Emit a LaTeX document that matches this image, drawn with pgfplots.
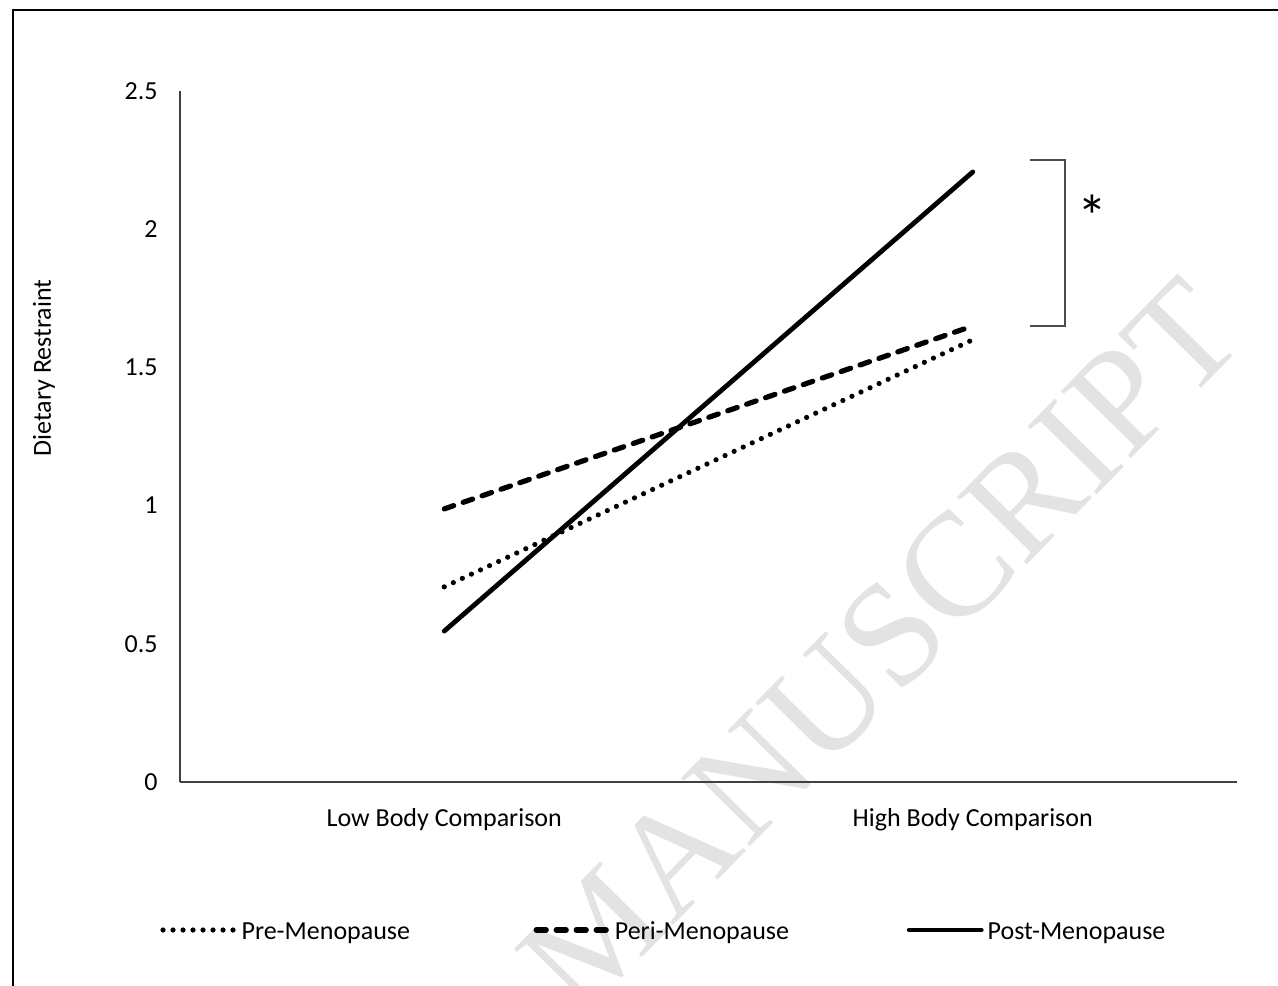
\documentclass[border=0pt]{standalone}
\usepackage{pgfplots}
\pgfplotsset{compat=1.18}
\usepackage{fontspec}
\setmainfont{Carlito}
\newfontfamily\wmfont{Liberation Serif}
\newcommand\fs{\fontsize{13bp}{16bp}\selectfont}
\begin{document}
\begin{tikzpicture}[x=1bp,y=1bp]
\node[rotate=45.5, text=black!11, font=\wmfont\fontsize{74bp}{80bp}\selectfont, inner sep=0pt] at (350,68) {MANUSCRIPT};
\begin{axis}[
  at={(0,0)}, anchor=south west,
  scale only axis, width=528.5bp, height=345.5bp,
  xmin=-0.5, xmax=1.5, ymin=0, ymax=2.5,
  axis x line=bottom, axis y line=left,
  axis line style={line width=1bp, black!75, -},
  xtick={0,1}, xticklabels={Low Body Comparison, High Body Comparison},
  ytick={0,0.5,1,1.5,2,2.5},
  major tick length=0pt,
  xticklabel style={font=\fs, inner sep=0pt, anchor=north, yshift=-13bp},
  yticklabel style={font=\fs, inner sep=0pt, anchor=east, xshift=-11bp},
  /pgf/number format/assume math mode=true,
  ylabel={Dietary Restraint},
  ylabel style={font=\fs, at={(axis description cs:-0.1287,0.599)}, anchor=center},
  clip=false, no markers,
  legend columns=3, legend cell align=left,
  legend style={draw=none, fill=none, at={(axis description cs:-0.0189,-0.2142)}, anchor=west,
    inner sep=0pt, column sep=0pt, nodes={inner sep=0pt, font=\fs, anchor=west},
    /tikz/every odd column/.append style={column sep=2bp}},
  legend image code/.code={\draw[#1] (0bp,0bp) -- (36bp,0bp);},
]
\addplot[black, line width=2.6bp, line cap=round, dash pattern=on 0pt off 5bp] coordinates {(0,0.706) (1,1.60)};
\addlegendentry{\makebox[146bp][l]{\strut Pre-Menopause}}
\addplot[black, line width=2.6bp, line cap=round, dash pattern=on 5bp off 5bp] coordinates {(0,0.988) (1,1.65)};
\addlegendentry{\makebox[146bp][l]{\strut Peri-Menopause}}
\addplot[black, line width=2.4bp, line cap=round] coordinates {(0,0.546) (1,2.207)};
\addlegendentry{\makebox[146bp][l]{\strut Post-Menopause}}
\draw[line width=0.75bp, black!70] (axis cs:1.108,2.2504) -- (axis cs:1.1745,2.2504) -- (axis cs:1.1745,1.6498) -- (axis cs:1.108,1.6498);
\node[font=\fontsize{30bp}{30bp}\selectfont, inner sep=0pt] at (axis cs:1.2256,2.048) {*};
\end{axis}
\draw[line width=1.2bp] (-83.5,-120) -- (-83.5,386) -- (560,386);
\pgfresetboundingbox
\useasboundingbox (-90,-102) rectangle (549,391);
\end{tikzpicture}
\end{document}
